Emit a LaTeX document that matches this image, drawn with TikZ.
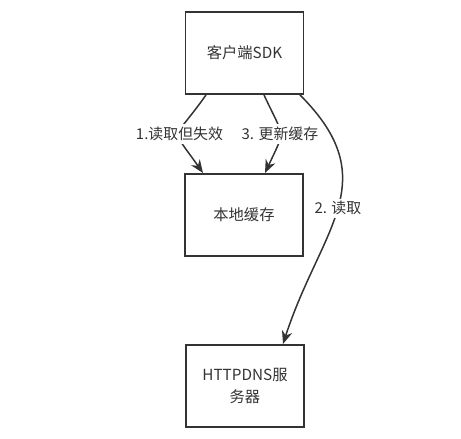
\documentclass[tikz,border=0pt]{standalone}
\usepackage{fontspec}
\setmainfont{Noto Sans CJK SC}
\usepackage{tikz}
\usetikzlibrary{arrows.meta}
\definecolor{grigio}{HTML}{333333}
\tikzset{
  box/.style={draw=grigio, line width=1.1pt, minimum width=2.36cm, minimum height=1.64cm,
    text=grigio, align=center, font=\fontsize{8.7}{12.5}\selectfont},
  freccia/.style={draw=grigio, line width=0.85pt, -{Stealth[length=7.5pt,width=6pt]}},
  etichetta/.style={fill=white, text=grigio, inner sep=1.5pt, font=\fontsize{8.5}{11}\selectfont}
}

\begin{document}
\begin{tikzpicture}[x=0.02cm, y=-0.02cm]
        \useasboundingbox (0,0) rectangle (461,439);
        % blocchi
        \node[box] (sdk)   at (244.5,53)  {客户端SDK};
        \node[box] (cache) at (244,215)   {本地缓存};
        \node[box] (dns)   at (245,386)   {HTTPDNS服\\务器};
        % frecce
        \draw[freccia] ([xshift=-0.77cm]sdk.south) to[out=-125, in=125, looseness=1.9]
            node[etichetta] {1.读取但失效} ([xshift=-0.82cm]cache.north);
        \draw[freccia] ([xshift=0.39cm]sdk.south) to[out=-65, in=65, looseness=1.6]
            node[etichetta] {3. 更新缓存} ([xshift=0.42cm]cache.north);
        \draw[freccia] ([xshift=1.11cm]sdk.south) to[out=-45, in=72, looseness=1.25]
            node[etichetta] {2. 读取} ([xshift=0.76cm]dns.north);
    \end{tikzpicture}
\end{document}
